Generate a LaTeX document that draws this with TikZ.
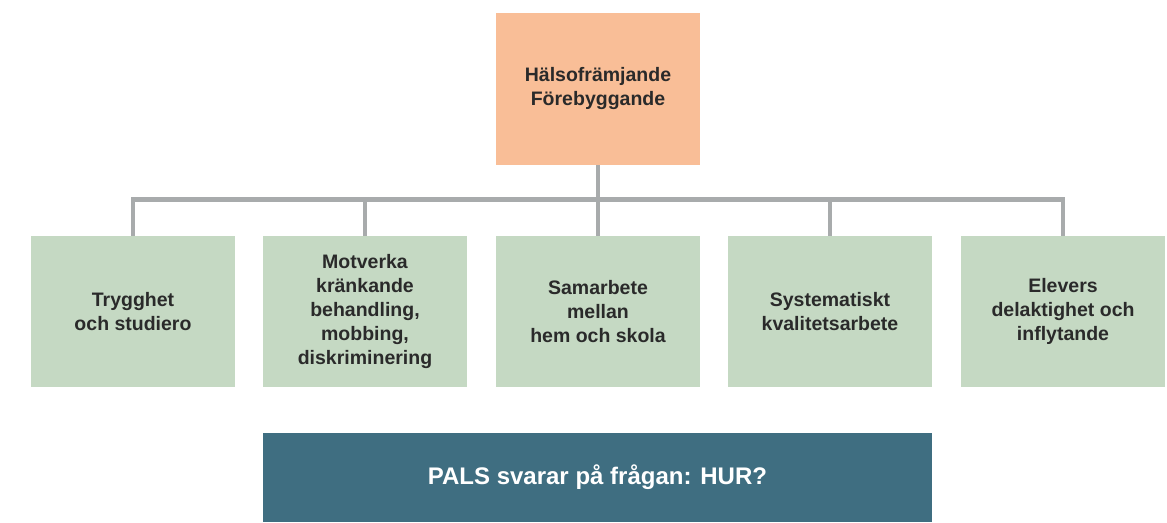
\documentclass[tikz,border=0pt]{standalone}
\usepackage{fontspec}
\setmainfont{Liberation Sans}
\definecolor{peach}{HTML}{F9BE97}
\definecolor{sage}{HTML}{C5D9C3}
\definecolor{teal}{HTML}{3F6E81}
\definecolor{linegray}{HTML}{A8ABAC}
\definecolor{ink}{HTML}{2A2A2A}
\tikzset{
  area/.style={fill=sage, minimum width=204pt, minimum height=151pt, align=center,
    text=ink, font=\fontsize{19.5}{24}\selectfont\bfseries},
  link/.style={draw=linegray, line width=4.5pt}
}
\begin{document}
\begin{tikzpicture}[x=1pt,y=1pt]
        \useasboundingbox (0,0) rectangle (1167,522);
        \node[fill=peach, minimum width=204pt, minimum height=152pt, align=center,
              text=ink, font=\fontsize{19.5}{24}\selectfont\bfseries]
              (top) at (598,433) {Hälsofrämjande\\Förebyggande};
        \node[area] (trygg) at (133,210.5) {Trygghet\\och studiero};
        \node[area] (motverka) at (365,210.5) {Motverka\\kränkande\\behandling,\\mobbing,\\diskriminering};
        \node[area] (samarbete) at (598,210.5) {Samarbete\\mellan\\hem och skola};
        \node[area] (kvalitet) at (830,210.5) {Systematiskt\\kvalitetsarbete};
        \node[area] (elevers) at (1063,210.5) {Elevers\\delaktighet och\\inflytande};
        \node[fill=teal, minimum width=669pt, minimum height=89pt, text=white,
              font=\fontsize{24}{24}\selectfont\bfseries] (pals) at (597.5,44.5) {PALS svarar på frågan: HUR?};
        \coordinate (bar) at (0,322.5);
        \draw[link] (top.south) -- (samarbete.north);
        \draw[link] (trygg.north) -- (trygg.north |- bar) -- (elevers.north |- bar) -- (elevers.north);
        \draw[link] (motverka.north) -- (motverka.north |- bar);
        \draw[link] (kvalitet.north) -- (kvalitet.north |- bar);
    \end{tikzpicture}
\end{document}
